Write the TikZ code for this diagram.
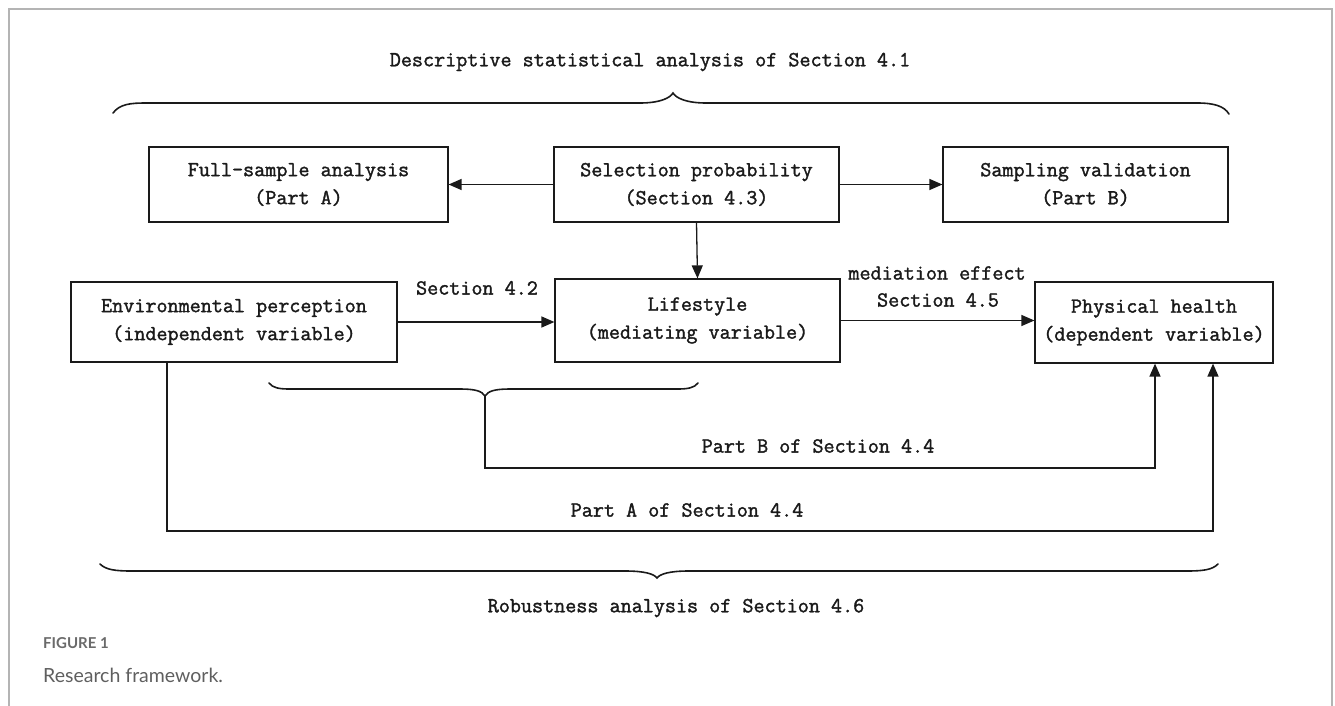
\documentclass[tikz,border=0pt]{standalone}
\usepackage{fontspec}
\usetikzlibrary{arrows.meta,calc}
\newfontfamily\dmono{Latin Modern Mono}[FakeBold=1.6]
\newfontfamily\capfont{Lato}
\definecolor{framegray}{HTML}{B4B4B4}
\definecolor{capgray}{HTML}{6A6A6A}
\definecolor{inkc}{HTML}{1A1A1A}
\tikzset{
  box/.style={draw=inkc, line width=1.2pt, rectangle, align=center, inner sep=0pt,
    font=\dmono\fontsize{21.5}{28}\selectfont, text=inkc},
  lbl/.style={inner sep=0pt, font=\dmono\fontsize{21.5}{28}\selectfont, text=inkc},
  arr/.style={draw=inkc, line width=1.3pt, -{Triangle[length=13pt,width=11pt]}},
  brace/.style={draw=inkc, line width=1.6pt, line cap=round}
}
\begin{document}
\begin{tikzpicture}[x=1pt,y=-1pt]
\useasboundingbox (0,0) rectangle (1335,706);
% frame
\draw[framegray, line width=1.5pt] (9,706) -- (9,9) -- (1332,9) -- (1332,706);

% titles
\node[lbl] (ttop) at (650,62) {Descriptive statistical analysis of Section 4.1};
\node[lbl] (tbot) at (676,608) {Robustness analysis of Section 4.6};

% top brace (pointing up)
\draw[brace] (113,113) .. controls (120,104) and (130,103) .. (147,103) -- (640,103)
  .. controls (660,103) and (670,98) .. (673,93)
  .. controls (676,98) and (686,103) .. (706,103) -- (1197,103)
  .. controls (1214,103) and (1224,106) .. (1229,114);

% bottom brace (pointing down)
\draw[brace] (100,564) .. controls (106,570) and (116,571) .. (132,571) -- (625,571)
  .. controls (645,571) and (654,574) .. (657,578)
  .. controls (660,574) and (669,571) .. (689,571) -- (1186,571)
  .. controls (1203,571) and (1212,570) .. (1218,564);

% boxes
\node[box, minimum width=299pt, minimum height=75pt] (full) at (298.5,184.5) {Full-sample analysis\\(Part A)};
\node[box, minimum width=285pt, minimum height=75pt] (sel) at (696.5,184.5) {Selection probability\\(Section 4.3)};
\node[box, minimum width=285pt, minimum height=75pt] (samp) at (1085.5,184.5) {Sampling validation\\(Part B)};
\node[box, minimum width=326pt, minimum height=80pt] (env) at (234,322) {Environmental perception\\(independent variable)};
\node[box, minimum width=285pt, minimum height=83pt] (life) at (697.5,320.5) {Lifestyle\\(mediating variable)};
\node[box, minimum width=238pt, minimum height=81pt] (phys) at (1154,322.5) {Physical health\\(dependent variable)};

% arrows
\draw[arr] (sel.west) -- (full.east);
\draw[arr] (sel.east) -- (samp.west);
\draw[arr] (sel.south) -- (life.north);
\draw[arr] (env.east) -- (life.west |- env.east);
\draw[arr] (life.east) -- (phys.west |- life.east);

\node[lbl] (l42) at (477,288) {Section 4.2};
\node[lbl] (lmed) at (937,273) {mediation effect};
\node[lbl] (l45) at (938,300) {Section 4.5};

% middle brace (pointing down)
\coordinate (btip) at (485,396);
\draw[brace] (269,383) .. controls (273,388) and (279,389) .. (290,389) -- (460,389)
  .. controls (475,389) and (482,391) .. (btip)
  .. controls (488,391) and (495,389) .. (510,389) -- (677,389)
  .. controls (688,389) and (694,388) .. (698,383);

% Part B path
\coordinate (pbc) at (1155,468);
\draw[arr] (btip) |- (pbc) -- (pbc |- phys.south);
\node[lbl] (lpb) at (818,446) {Part B of Section 4.4};

% Part A path
\coordinate (pa1) at (167,531);
\coordinate (pa2) at (1213,531);
\draw[arr] (pa1 |- env.south) -- (pa1) -- (pa2) -- (pa2 |- phys.south);
\node[lbl] (lpa) at (687,510) {Part A of Section 4.4};

% caption
\node[anchor=west, inner sep=0pt, font=\capfont\bfseries\fontsize{15}{17}\selectfont, text=capgray] (fig) at (43,643) {FIGURE 1};
\node[anchor=west, inner sep=0pt, font=\capfont\fontsize{19.5}{22}\selectfont, text=capgray!90!black] (cap) at (43,675) {Research framework.};
\end{tikzpicture}
\end{document}
